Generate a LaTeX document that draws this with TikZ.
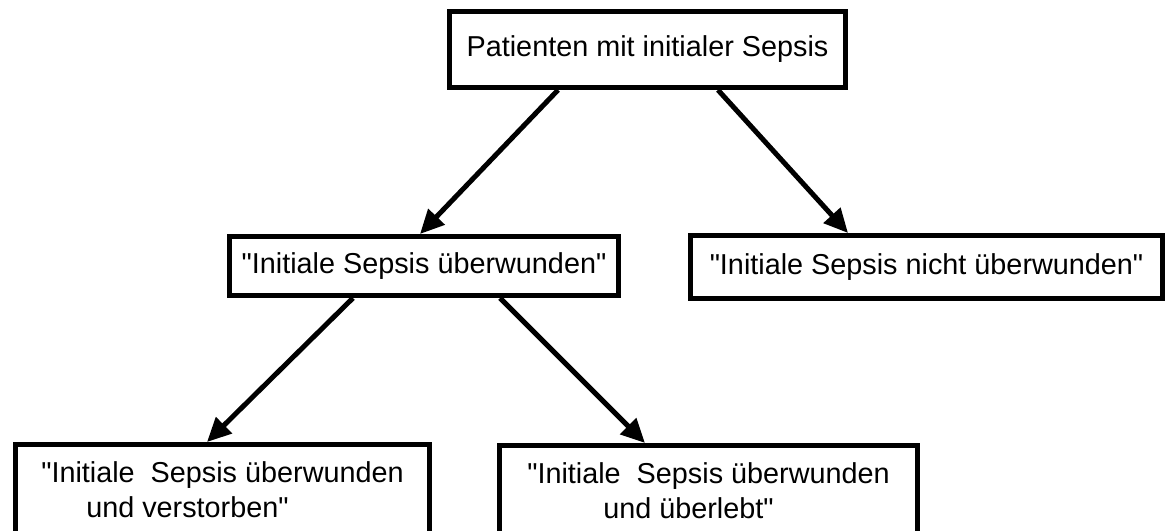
\documentclass[tikz,border=0pt]{standalone}
\usepackage{fontspec}
\setmainfont{Liberation Sans}[Ligatures=TeXOff]
\usetikzlibrary{arrows.meta,positioning,calc}

\begin{document}
\begin{tikzpicture}[x=0.5pt,y=-0.5pt,% one unit is one pixel of the reference, y runs down
					every node/.style={
						align=center,  		% so that "\\" breaks the line
						font=\fontsize{14.4}{17.5}\selectfont
						},
					box/.style={rectangle,draw=black,line width=2.5pt,inner sep=0pt},
					every edge/.style={draw,line width=2.5pt,-{Triangle[length=12pt,width=11pt]}}
					]
\useasboundingbox (0,0) rectangle (1165,530);
\node[box,minimum width=198pt,minimum height=38pt](R1) at (647.5,49.5){Patienten mit initialer Sepsis};
\node[box,minimum width=194.5pt,minimum height=29.5pt](R2) at (424,266){"Initiale Sepsis überwunden"};
\node[box,minimum width=236pt,minimum height=31.5pt](R3) at (926.5,267){"Initiale Sepsis nicht überwunden"};
\node[box,minimum width=207pt,minimum height=45.5pt,align=left](R4) at (222.5,490){"Initiale~ Sepsis überwunden\\\hspace*{22.5pt}und verstorben"};
\node[box,minimum width=209pt,minimum height=45.5pt](R5) at (708.5,491){"Initiale~ Sepsis überwunden\\und überlebt"\hspace*{20pt}};
\path
([xshift=-44.75pt]R1.south)edge []	([xshift=-2pt]R2.north)
([xshift=35.25pt]R1.south)edge []	([xshift=-39.25pt]R3.north)
([xshift=-35.5pt]R2.south)edge []	([xshift=-7.75pt]R4.north)
([xshift=38pt]R2.south)edge []	([xshift=-31.75pt]R5.north)
;
\end{tikzpicture}
\end{document}
